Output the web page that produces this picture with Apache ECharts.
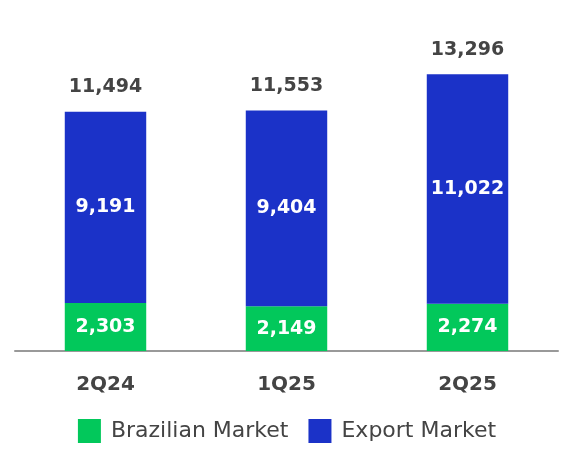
<!DOCTYPE html>
<html>
<head>
<meta charset="utf-8">
<script src="https://cdn.jsdelivr.net/npm/echarts@6/dist/echarts.min.js"></script>
<style>
  html, body { margin: 0; padding: 0; background: #fff; }
  #main { width: 574px; height: 452px; }
</style>
</head>
<body>
<div id="main"></div>
<script>
var categories = ['2Q24', '1Q25', '2Q25'];
var brazilian = [2303, 2149, 2274];
var exportMkt = [9191, 9404, 11022];

var chartDom = document.getElementById('main');
var myChart = echarts.init(chartDom);
var option;

var FONT = 'DejaVu Sans';

function fmt(v) {
  return v.toLocaleString('en-US');
}

option = {
  textStyle: { fontFamily: FONT },
  grid: { left: 15, right: 16, top: 18, bottom: 101 },
  legend: {
    data: ['Brazilian Market', 'Export Market'],
    bottom: 4,
    left: 'center',
    icon: 'rect',
    itemWidth: 23,
    itemHeight: 24,
    itemGap: 20,
    textStyle: { fontSize: 22, color: '#444', fontFamily: FONT, padding: [0, 0, 0, 5] }
  },
  xAxis: {
    type: 'category',
    data: categories,
    axisLine: { lineStyle: { color: '#999', width: 2 } },
    axisTick: { show: false },
    axisLabel: {
      fontSize: 20, fontWeight: 'bold', color: '#444', margin: 24, fontFamily: FONT
    }
  },
  yAxis: {
    type: 'value',
    min: 0,
    max: 16000,
    show: false,
    splitLine: { show: false }
  },
  series: [
    {
      name: 'Brazilian Market',
      type: 'bar',
      stack: 'total',
      barWidth: '45%',
      data: brazilian,
      itemStyle: { color: '#02C85B' },
      label: {
        show: true,
        position: 'inside',
        color: '#fff',
        fontSize: 19,
        fontWeight: 'bold',
        formatter: function (p) { return fmt(p.value); }
      }
    },
    {
      name: 'Export Market',
      type: 'bar',
      stack: 'total',
      data: exportMkt,
      itemStyle: { color: '#1B32C8' },
      label: {
        show: true,
        position: 'inside',
        color: '#fff',
        fontSize: 19,
        fontWeight: 'bold',
        formatter: function (p) { return fmt(p.value); }
      }
    },
    {
      // totals on top
      name: 'Total',
      type: 'bar',
      stack: 'total',
      data: [0, 0, 0],
      itemStyle: { color: 'transparent' },
      label: {
        show: true,
        position: 'top',
        distance: 15,
        color: '#444',
        fontSize: 19,
        fontWeight: 'bold',
        formatter: function (p) {
          return fmt(brazilian[p.dataIndex] + exportMkt[p.dataIndex]);
        }
      }
    }
  ]
};

option && myChart.setOption(option);
</script>
</body>
</html>
